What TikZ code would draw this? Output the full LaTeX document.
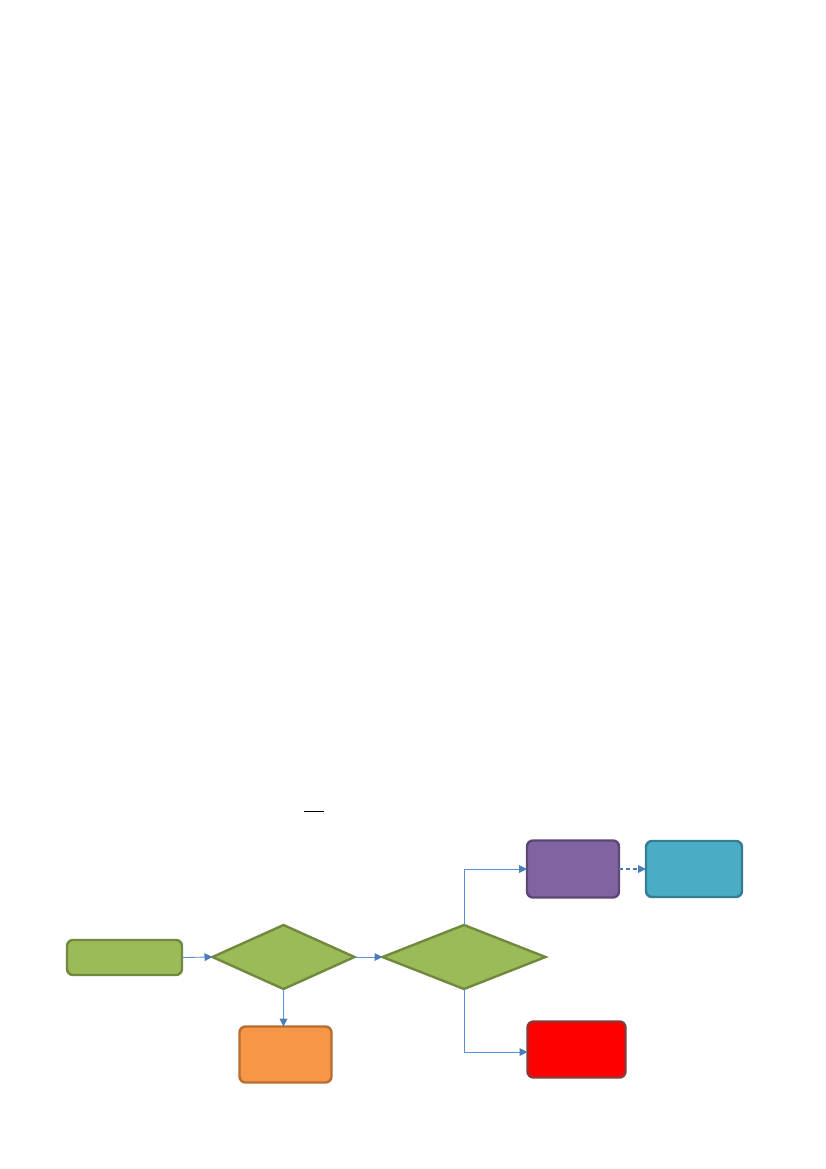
\documentclass[tikz,border=0pt]{standalone}
\usetikzlibrary{shapes.geometric,arrows.meta}
\definecolor{gfill}{HTML}{9BBB59}
\definecolor{gline}{HTML}{71893F}
\definecolor{ofill}{HTML}{F79646}
\definecolor{oline}{HTML}{B66D31}
\definecolor{pfill}{HTML}{8064A2}
\definecolor{pline}{HTML}{5C4776}
\definecolor{cfill}{HTML}{4BACC6}
\definecolor{cline}{HTML}{357D91}
\definecolor{rfill}{HTML}{FF0000}
\definecolor{rline}{HTML}{8C3836}
\definecolor{conncol}{HTML}{5F8FD0}
\definecolor{tipcol}{HTML}{4A7EBB}
\tikzset{
  boxbase/.style={rectangle, rounded corners=6pt, line width=2.4pt, inner sep=0pt, outer sep=0pt},
  gbox/.style={boxbase, draw=gline, fill=gfill},
  obox/.style={boxbase, draw=oline, fill=ofill},
  pbox/.style={boxbase, draw=pline, fill=pfill},
  cbox/.style={boxbase, draw=cline, fill=cfill},
  rbox/.style={boxbase, draw=rline, fill=rfill},
  decide/.style={diamond, draw=gline, fill=gfill, line width=2.4pt, inner sep=0pt, outer sep=0pt},
  conn/.style={draw=conncol, line width=0.9pt, -{Triangle[length=8pt,width=8pt,fill=tipcol,line width=0pt]}},
  dashconn/.style={conn, draw=tipcol, line width=1.2pt, dash pattern=on 4pt off 3pt},
}
\begin{document}
\begin{tikzpicture}[x=1pt,y=-1pt]
\useasboundingbox (0,0) rectangle (826,1169);
\fill[white] (0,0) rectangle (826,1169);
\node[gbox, minimum width=115, minimum height=35] (start) at (124.5,957.5) {};
\node[decide, minimum width=142, minimum height=64] (d1) at (283.5,957) {};
\node[obox, minimum width=92, minimum height=56] (orange) at (285.5,1054.5) {};
\node[decide, minimum width=163, minimum height=64] (d2) at (464,957) {};
\node[pbox, minimum width=92, minimum height=57] (purple) at (573,869) {};
\node[cbox, minimum width=96, minimum height=56] (cyan) at (694,869) {};
\node[rbox, minimum width=98, minimum height=56] (red) at (576.5,1049.5) {};
\coordinate (m1) at (304,811.5);
\coordinate (m2) at (324,811.5);
\draw[black, line width=1.1pt] (m1) -- (m2);
\draw[conn] (start.east) -- (d1.west);
\draw[conn] (d1.east) -- (d2.west);
\draw[conn] (d1.south) -- (d1.south |- orange.north);
\draw[conn] (d2.north) |- (purple.west);
\draw[conn] (d2.south) |- ([yshift=-2.5pt]red.west);
\draw[dashconn] (purple.east) -- (cyan.west);
\end{tikzpicture}
\end{document}
